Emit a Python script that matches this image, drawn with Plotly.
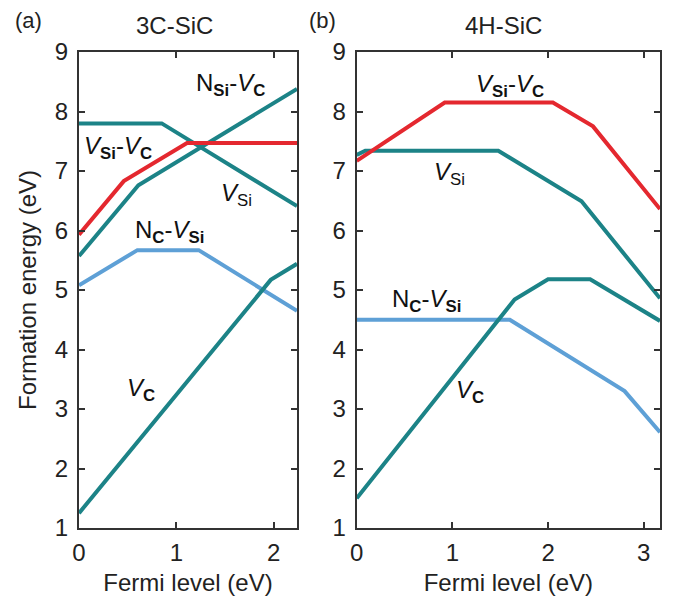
import plotly.graph_objects as go

# ---------------- data: 3C-SiC ----------------
fermi_3c_vsi = [0.0, 0.85, 2.24]
energy_3c_vsi = [7.80, 7.80, 6.41]

fermi_3c_nsivc = [0.0, 0.61, 2.24]
energy_3c_nsivc = [5.57, 6.76, 8.38]

fermi_3c_vsivc = [0.0, 0.46, 1.11, 2.24]
energy_3c_vsivc = [5.93, 6.83, 7.47, 7.47]

fermi_3c_ncvsi = [0.0, 0.60, 1.23, 2.24]
energy_3c_ncvsi = [5.08, 5.67, 5.67, 4.65]

fermi_3c_vc = [0.0, 1.97, 2.24]
energy_3c_vc = [1.25, 5.17, 5.44]

# ---------------- data: 4H-SiC ----------------
fermi_4h_vsivc = [0.0, 0.92, 2.05, 2.47, 3.17]
energy_4h_vsivc = [7.17, 8.15, 8.15, 7.75, 6.36]

fermi_4h_vsi = [0.0, 0.09, 1.48, 2.35, 3.17]
energy_4h_vsi = [7.27, 7.34, 7.34, 6.49, 4.86]

fermi_4h_vc = [0.0, 1.65, 2.0, 2.44, 3.17]
energy_4h_vc = [1.50, 4.84, 5.18, 5.18, 4.48]

fermi_4h_ncvsi = [0.0, 1.60, 2.80, 3.17]
energy_4h_ncvsi = [4.50, 4.50, 3.30, 2.61]

y_ticks = [1, 2, 3, 4, 5, 6, 7, 8, 9]
x_ticks_3c = [0, 1, 2]
x_ticks_4h = [0, 1, 2, 3]

TEAL = "#1c8387"
RED = "#e4282f"
LBLUE = "#5ea0d6"
FONT = "Liberation Sans, Arial, sans-serif"

fig = go.Figure()

def add_line(x, y, color, xa, ya):
    fig.add_trace(go.Scatter(x=x, y=y, mode="lines",
                             line=dict(color=color, width=4),
                             xaxis=xa, yaxis=ya, showlegend=False,
                             hoverinfo="skip"))

# left panel
add_line(fermi_3c_ncvsi, energy_3c_ncvsi, LBLUE, "x", "y")
add_line(fermi_3c_vc, energy_3c_vc, TEAL, "x", "y")
add_line(fermi_3c_vsi, energy_3c_vsi, TEAL, "x", "y")
add_line(fermi_3c_nsivc, energy_3c_nsivc, TEAL, "x", "y")
add_line(fermi_3c_vsivc, energy_3c_vsivc, RED, "x", "y")

# right panel
add_line(fermi_4h_ncvsi, energy_4h_ncvsi, LBLUE, "x2", "y2")
add_line(fermi_4h_vc, energy_4h_vc, TEAL, "x2", "y2")
add_line(fermi_4h_vsi, energy_4h_vsi, TEAL, "x2", "y2")
add_line(fermi_4h_vsivc, energy_4h_vsivc, RED, "x2", "y2")

TICKSIZE = 24
TITLESIZE = 24

axis_common = dict(
    showline=True, mirror="ticks", linecolor="#333333", linewidth=2,
    ticks="inside", ticklen=6, tickwidth=2, tickcolor="#333333",
    showgrid=False, zeroline=False, automargin=False,
    tickfont=dict(family=FONT, size=TICKSIZE, color="#222222"),
)

# page body has an 8px margin; lay out in window pixels shifted by it
OFF = 8
W, H = 674 - OFF, 597 - OFF

def fx(px):
    return (px - OFF) / W

def fy(py):
    return 1 - (py - OFF) / H

fig.update_layout(
    width=W, height=H,
    margin=dict(l=0, r=0, t=0, b=0),
    paper_bgcolor="white", plot_bgcolor="white",
    font=dict(family=FONT, size=22, color="#222222"),
    xaxis=dict(domain=[fx(79), fx(297)], range=[0, 2.24], tickvals=x_ticks_3c,
               anchor="y", ticklabelstandoff=2,
               title=dict(text="Fermi level (eV)", standoff=9,
                          font=dict(family=FONT, size=TITLESIZE)),
               **axis_common),
    yaxis=dict(domain=[fy(528), fy(52)], range=[1, 9], tickvals=y_ticks,
               anchor="x", ticklabelstandoff=4,
               title=dict(text="Formation energy (eV)", standoff=11,
                          font=dict(family=FONT, size=TITLESIZE)),
               **axis_common),
    xaxis2=dict(domain=[fx(356.7), fx(660)], range=[0, 3.17], tickvals=x_ticks_4h,
                anchor="y2", ticklabelstandoff=2,
                title=dict(text="Fermi level (eV)", standoff=9,
                           font=dict(family=FONT, size=TITLESIZE)),
                **axis_common),
    yaxis2=dict(domain=[fy(528), fy(52)], range=[1, 9], tickvals=y_ticks,
                anchor="x2", ticklabelstandoff=4,
                **axis_common),
)

ann = []
def label(text, x, y, xref, yref, size=24):
    ann.append(dict(text=text, x=x, y=y, xref=xref, yref=yref, showarrow=False,
                    font=dict(family=FONT, size=size, color="#111111"),
                    xanchor="center", yanchor="middle"))

# left labels
label("N<sub><b>Si</b></sub>-<i>V</i><sub><b>C</b></sub>", 1.56, 8.45, "x", "y")
label("<i>V</i><sub><b>Si</b></sub>-<i>V</i><sub><b>C</b></sub>", 0.40, 7.39, "x", "y")
label("<i>V</i><sub>Si</sub>", 1.62, 6.60, "x", "y")
label("N<sub><b>C</b></sub>-<i>V</i><sub><b>Si</b></sub>", 0.93, 5.99, "x", "y")
label("<i>V</i><sub><b>C</b></sub>", 0.64, 3.32, "x", "y")
# right labels
label("<i>V</i><sub><b>Si</b></sub>-<i>V</i><sub><b>C</b></sub>", 1.60, 8.43, "x2", "y2")
label("<i>V</i><sub>Si</sub>", 0.97, 6.95, "x2", "y2")
label("N<sub><b>C</b></sub>-<i>V</i><sub><b>Si</b></sub>", 0.73, 4.83, "x2", "y2")
label("<i>V</i><sub><b>C</b></sub>", 1.18, 3.30, "x2", "y2")

# panel tags and titles
def paper_text(text, px, py, size=24):
    ann.append(dict(text=text, x=fx(px), y=fy(py), xref="paper", yref="paper",
                    showarrow=False, xanchor="center", yanchor="middle",
                    borderpad=0,
                    font=dict(family=FONT, size=size, color="#222222")))

paper_text("(a)", 28, 21, 22)
paper_text("3C-SiC", 174, 26)
paper_text("(b)", 322, 21, 22)
paper_text("4H-SiC", 503, 26)

fig.update_layout(annotations=ann)
fig.write_html("out.html")
